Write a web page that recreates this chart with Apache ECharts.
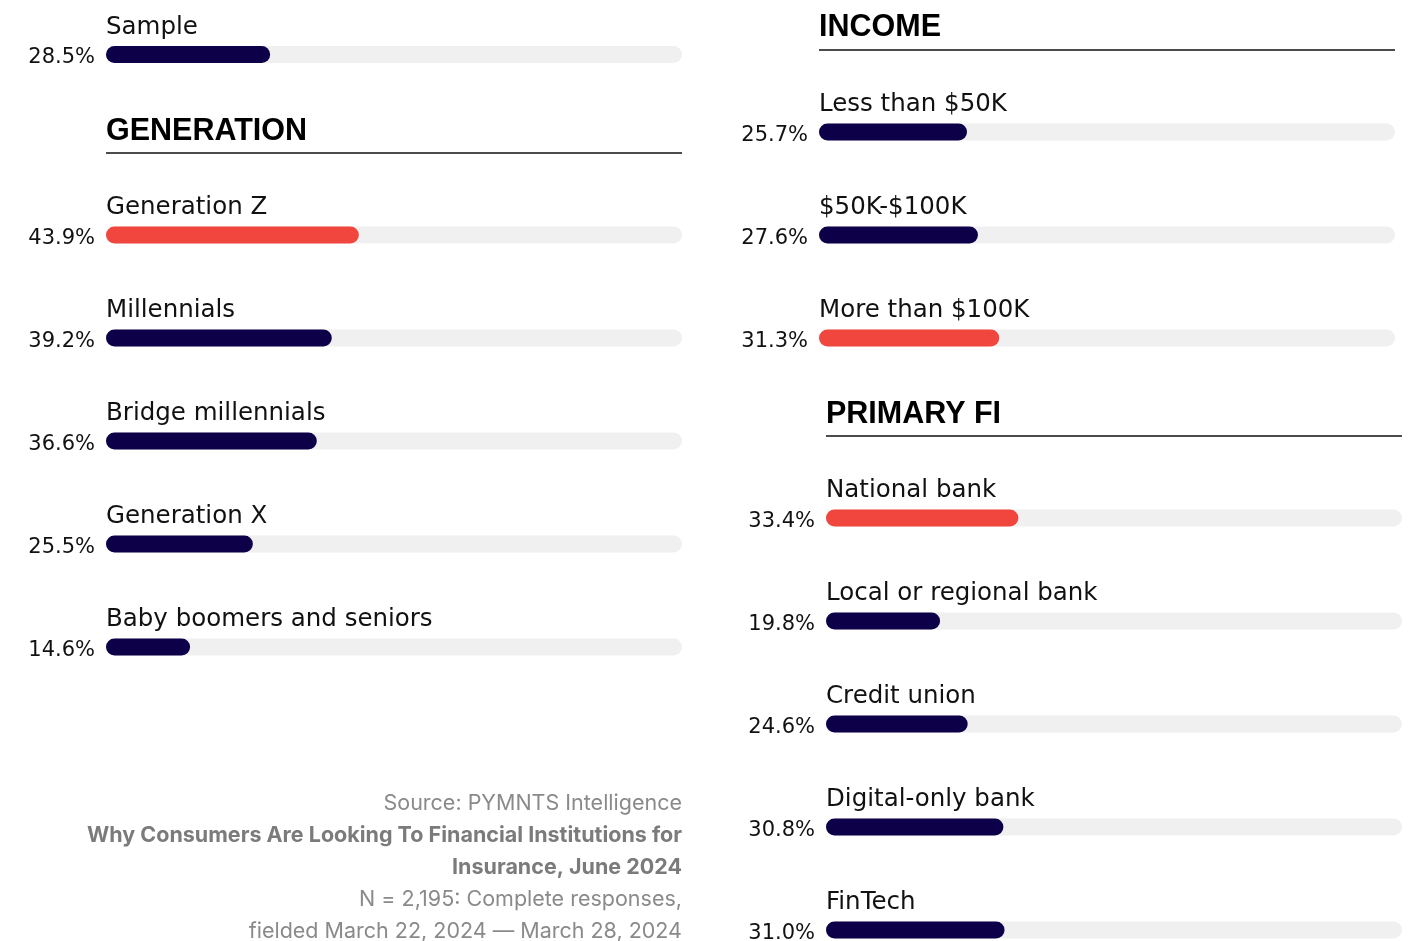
<!DOCTYPE html>
<html>
<head>
<meta charset="utf-8">
<script src="https://cdn.jsdelivr.net/npm/echarts@6/dist/echarts.min.js"></script>
<style>
  html, body { margin: 0; padding: 0; background: #fff; }
  #chart { width: 1408px; height: 941px; }
</style>
</head>
<body>
<div id="chart"></div>
<script>
const sampleNames = ['Sample']
const sampleValues = [28.5]
const generationNames = ['Generation Z', 'Millennials', 'Bridge millennials', 'Generation X', 'Baby boomers and seniors']
const generationValues = [43.9, 39.2, 36.6, 25.5, 14.6]
const incomeNames = ['Less than $50K', '$50K-$100K', 'More than $100K']
const incomeValues = [25.7, 27.6, 31.3]
const fiNames = ['National bank', 'Local or regional bank', 'Credit union', 'Digital-only bank', 'FinTech']
const fiValues = [33.4, 19.8, 24.6, 30.8, 31.0]
// index of the highlighted bar in each group (-1 = none)
const highlights = [-1, 0, 2, 0]

const NAVY = '#0d0049'
const RED = '#f0463d'
const FONT = '"DejaVu Sans", sans-serif'
const FOOT_FONT = 'Inter, "Noto Sans", sans-serif'

// first/last bar centres are the grid edges (boundaryGap false), except the single Sample bar
const groups = [
  { names: sampleNames, values: sampleValues, gap: true, grid: { left: 106, width: 576, top: 3, height: 103 } },
  { names: generationNames, values: generationValues, gap: false, grid: { left: 106, width: 576, top: 235, height: 412 } },
  { names: incomeNames, values: incomeValues, gap: false, grid: { left: 819, width: 576, top: 132, height: 206 } },
  { names: fiNames, values: fiValues, gap: false, grid: { left: 826, width: 576, top: 518, height: 412 } }
]

const chart = echarts.init(document.getElementById('chart'))

const grids = []
const xAxes = []
const yAxes = []
const series = []

groups.forEach((g, gi) => {
  grids.push(Object.assign({ outerBoundsMode: 'none', containLabel: false }, g.grid))
  xAxes.push({
    gridIndex: gi, type: 'value', min: 0, max: 100, show: false
  })
  yAxes.push({
    gridIndex: gi,
    type: 'category',
    inverse: true,
    boundaryGap: g.gap,
    data: g.names,
    axisLine: { show: false },
    axisTick: { show: false },
    splitLine: { show: false },
    axisLabel: {
      margin: 11,
      formatter: (v, i) => '{v|' + g.values[i].toFixed(1) + '%}',
      rich: {
        v: { color: '#111', fontSize: 21, fontFamily: FONT, padding: [7, 0, 0, 0] }
      }
    }
  })
  series.push({
    type: 'bar',
    xAxisIndex: gi,
    yAxisIndex: gi,
    barWidth: 17,
    showBackground: true,
    backgroundStyle: { color: '#f0f0f0', borderRadius: 8.5 },
    data: g.values.map((v, i) => ({
      value: v,
      itemStyle: { color: i === highlights[gi] ? RED : NAVY, borderRadius: 8.5 }
    })),
    label: {
      show: true,
      position: [0, -6],
      align: 'left',
      verticalAlign: 'bottom',
      color: '#111',
      fontSize: 24.5,
      fontFamily: FONT,
      formatter: p => g.names[p.dataIndex]
    },
    silent: true
  })
})

const heading = (text, x, y) => ({
  type: 'text', x, y,
  style: {
    text, verticalAlign: 'middle', fontSize: 30.5, fontWeight: 'bold',
    fontFamily: '"Liberation Sans", Arial, sans-serif', fill: '#000'
  }
})
const rule = (x1, x2, y) => ({
  type: 'line', shape: { x1, y1: y, x2, y2: y }, style: { stroke: '#111', lineWidth: 1.5 }
})

const footerLines = [
  { text: 'Source: PYMNTS Intelligence', bold: false },
  { text: 'Why Consumers Are Looking To Financial Institutions for', bold: true },
  { text: 'Insurance, June 2024', bold: true },
  { text: 'N = 2,195: Complete responses,', bold: false },
  { text: 'fielded March 22, 2024 \u2014 March 28, 2024', bold: false }
]

const graphics = [
  heading('GENERATION', 106, 132),
  rule(106, 682, 153),
  heading('INCOME', 819, 28),
  rule(819, 1395, 50),
  heading('PRIMARY FI', 826, 415),
  rule(826, 1402, 436)
]
footerLines.forEach((l, i) => {
  graphics.push({
    type: 'text',
    x: 682, y: 804 + i * 32,
    style: {
      text: l.text,
      align: 'right',
      verticalAlign: 'middle',
      fontSize: 21.5,
      fontWeight: l.bold ? 'bold' : 'normal',
      fontFamily: FOOT_FONT,
      fill: l.bold ? '#7b7b7b' : '#8a8a8a'
    }
  })
})

chart.setOption({
  animation: false,
  grid: grids,
  xAxis: xAxes,
  yAxis: yAxes,
  series,
  graphic: graphics
})
</script>
</body>
</html>
